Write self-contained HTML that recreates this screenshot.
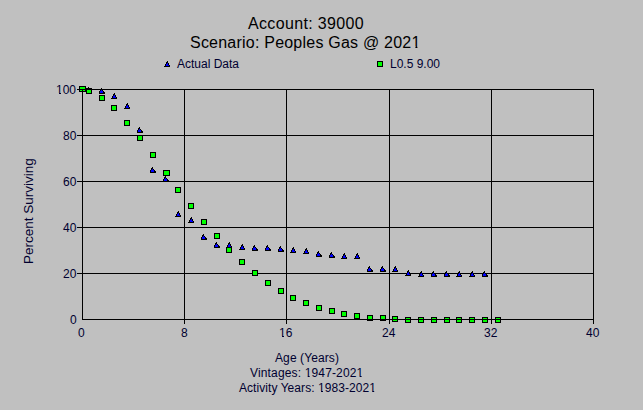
<!DOCTYPE html>
<html><head><meta charset="utf-8"><style>
html,body{margin:0;padding:0;}
body{width:643px;height:410px;background:#c0c0c0;position:relative;overflow:hidden;font-family:"Liberation Sans",sans-serif;color:#000030;}
.t{position:absolute;white-space:nowrap;line-height:1;}
.o{display:inline-block;clip-path:polygon(0 0,100% 0,100% 9px,5px 9px,5px 100%,3px 100%,3px 9px,0 9px);}
.O{display:inline-block;clip-path:polygon(0 0,100% 0,100% 11px,6px 11px,6px 100%,4px 100%,4px 11px,0 11px);}
svg{position:absolute;left:0;top:0;}
</style></head><body>
<svg width="643" height="410" shape-rendering="crispEdges">
<rect x="184" y="89" width="1" height="231" fill="#000"/>
<rect x="286" y="89" width="1" height="231" fill="#000"/>
<rect x="389" y="89" width="1" height="231" fill="#000"/>
<rect x="491" y="89" width="1" height="231" fill="#000"/>
<rect x="82" y="135" width="512" height="1" fill="#000"/>
<rect x="82" y="181" width="512" height="1" fill="#000"/>
<rect x="82" y="227" width="512" height="1" fill="#000"/>
<rect x="82" y="273" width="512" height="1" fill="#000"/>
<rect x="82" y="86" width="1" height="1" fill="#000"/>
<rect x="81" y="87" width="2" height="1" fill="#000"/>
<rect x="81" y="88" width="1" height="1" fill="#000"/>
<rect x="82" y="88" width="1" height="1" fill="#0000ff"/>
<rect x="83" y="88" width="1" height="1" fill="#000"/>
<rect x="80" y="89" width="1" height="1" fill="#000"/>
<rect x="81" y="89" width="3" height="1" fill="#0000ff"/>
<rect x="84" y="89" width="1" height="1" fill="#000"/>
<rect x="80" y="90" width="1" height="1" fill="#000"/>
<rect x="81" y="90" width="3" height="1" fill="#0000ff"/>
<rect x="84" y="90" width="2" height="1" fill="#000"/>
<rect x="80" y="91" width="6" height="1" fill="#000"/>
<rect x="88" y="87" width="1" height="1" fill="#000"/>
<rect x="87" y="88" width="2" height="1" fill="#000"/>
<rect x="87" y="89" width="1" height="1" fill="#000"/>
<rect x="88" y="89" width="1" height="1" fill="#0000ff"/>
<rect x="89" y="89" width="1" height="1" fill="#000"/>
<rect x="86" y="90" width="1" height="1" fill="#000"/>
<rect x="87" y="90" width="3" height="1" fill="#0000ff"/>
<rect x="90" y="90" width="1" height="1" fill="#000"/>
<rect x="86" y="91" width="1" height="1" fill="#000"/>
<rect x="87" y="91" width="3" height="1" fill="#0000ff"/>
<rect x="90" y="91" width="2" height="1" fill="#000"/>
<rect x="86" y="92" width="6" height="1" fill="#000"/>
<rect x="101" y="88" width="1" height="1" fill="#000"/>
<rect x="100" y="89" width="2" height="1" fill="#000"/>
<rect x="100" y="90" width="1" height="1" fill="#000"/>
<rect x="101" y="90" width="1" height="1" fill="#0000ff"/>
<rect x="102" y="90" width="1" height="1" fill="#000"/>
<rect x="99" y="91" width="1" height="1" fill="#000"/>
<rect x="100" y="91" width="3" height="1" fill="#0000ff"/>
<rect x="103" y="91" width="1" height="1" fill="#000"/>
<rect x="99" y="92" width="1" height="1" fill="#000"/>
<rect x="100" y="92" width="3" height="1" fill="#0000ff"/>
<rect x="103" y="92" width="2" height="1" fill="#000"/>
<rect x="99" y="93" width="6" height="1" fill="#000"/>
<rect x="114" y="93" width="1" height="1" fill="#000"/>
<rect x="113" y="94" width="2" height="1" fill="#000"/>
<rect x="113" y="95" width="1" height="1" fill="#000"/>
<rect x="114" y="95" width="1" height="1" fill="#0000ff"/>
<rect x="115" y="95" width="1" height="1" fill="#000"/>
<rect x="112" y="96" width="1" height="1" fill="#000"/>
<rect x="113" y="96" width="2" height="1" fill="#0000ff"/>
<rect x="115" y="96" width="1" height="1" fill="#000"/>
<rect x="112" y="97" width="1" height="1" fill="#000"/>
<rect x="113" y="97" width="3" height="1" fill="#0000ff"/>
<rect x="116" y="97" width="1" height="1" fill="#000"/>
<rect x="111" y="98" width="6" height="1" fill="#000"/>
<rect x="127" y="103" width="1" height="1" fill="#000"/>
<rect x="126" y="104" width="2" height="1" fill="#000"/>
<rect x="126" y="105" width="1" height="1" fill="#000"/>
<rect x="127" y="105" width="1" height="1" fill="#0000ff"/>
<rect x="128" y="105" width="1" height="1" fill="#000"/>
<rect x="125" y="106" width="1" height="1" fill="#000"/>
<rect x="126" y="106" width="2" height="1" fill="#0000ff"/>
<rect x="128" y="106" width="1" height="1" fill="#000"/>
<rect x="125" y="107" width="1" height="1" fill="#000"/>
<rect x="126" y="107" width="3" height="1" fill="#0000ff"/>
<rect x="129" y="107" width="1" height="1" fill="#000"/>
<rect x="124" y="108" width="6" height="1" fill="#000"/>
<rect x="139" y="127" width="1" height="1" fill="#000"/>
<rect x="138" y="128" width="2" height="1" fill="#000"/>
<rect x="138" y="129" width="1" height="1" fill="#000"/>
<rect x="139" y="129" width="1" height="1" fill="#0000ff"/>
<rect x="140" y="129" width="1" height="1" fill="#000"/>
<rect x="137" y="130" width="1" height="1" fill="#000"/>
<rect x="138" y="130" width="3" height="1" fill="#0000ff"/>
<rect x="141" y="130" width="1" height="1" fill="#000"/>
<rect x="137" y="131" width="1" height="1" fill="#000"/>
<rect x="138" y="131" width="3" height="1" fill="#0000ff"/>
<rect x="141" y="131" width="2" height="1" fill="#000"/>
<rect x="137" y="132" width="6" height="1" fill="#000"/>
<rect x="152" y="167" width="1" height="1" fill="#000"/>
<rect x="151" y="168" width="2" height="1" fill="#000"/>
<rect x="151" y="169" width="1" height="1" fill="#000"/>
<rect x="152" y="169" width="1" height="1" fill="#0000ff"/>
<rect x="153" y="169" width="1" height="1" fill="#000"/>
<rect x="150" y="170" width="1" height="1" fill="#000"/>
<rect x="151" y="170" width="3" height="1" fill="#0000ff"/>
<rect x="154" y="170" width="1" height="1" fill="#000"/>
<rect x="150" y="171" width="1" height="1" fill="#000"/>
<rect x="151" y="171" width="3" height="1" fill="#0000ff"/>
<rect x="154" y="171" width="2" height="1" fill="#000"/>
<rect x="150" y="172" width="6" height="1" fill="#000"/>
<rect x="165" y="176" width="1" height="1" fill="#000"/>
<rect x="164" y="177" width="2" height="1" fill="#000"/>
<rect x="164" y="178" width="1" height="1" fill="#000"/>
<rect x="165" y="178" width="1" height="1" fill="#0000ff"/>
<rect x="166" y="178" width="1" height="1" fill="#000"/>
<rect x="163" y="179" width="1" height="1" fill="#000"/>
<rect x="164" y="179" width="3" height="1" fill="#0000ff"/>
<rect x="167" y="179" width="1" height="1" fill="#000"/>
<rect x="163" y="180" width="1" height="1" fill="#000"/>
<rect x="164" y="180" width="3" height="1" fill="#0000ff"/>
<rect x="167" y="180" width="2" height="1" fill="#000"/>
<rect x="163" y="181" width="6" height="1" fill="#000"/>
<rect x="178" y="211" width="1" height="1" fill="#000"/>
<rect x="177" y="212" width="2" height="1" fill="#000"/>
<rect x="177" y="213" width="1" height="1" fill="#000"/>
<rect x="178" y="213" width="1" height="1" fill="#0000ff"/>
<rect x="179" y="213" width="1" height="1" fill="#000"/>
<rect x="176" y="214" width="1" height="1" fill="#000"/>
<rect x="177" y="214" width="2" height="1" fill="#0000ff"/>
<rect x="179" y="214" width="1" height="1" fill="#000"/>
<rect x="176" y="215" width="1" height="1" fill="#000"/>
<rect x="177" y="215" width="3" height="1" fill="#0000ff"/>
<rect x="180" y="215" width="1" height="1" fill="#000"/>
<rect x="175" y="216" width="6" height="1" fill="#000"/>
<rect x="191" y="217" width="1" height="1" fill="#000"/>
<rect x="190" y="218" width="2" height="1" fill="#000"/>
<rect x="190" y="219" width="1" height="1" fill="#000"/>
<rect x="191" y="219" width="1" height="1" fill="#0000ff"/>
<rect x="192" y="219" width="1" height="1" fill="#000"/>
<rect x="189" y="220" width="1" height="1" fill="#000"/>
<rect x="190" y="220" width="2" height="1" fill="#0000ff"/>
<rect x="192" y="220" width="1" height="1" fill="#000"/>
<rect x="189" y="221" width="1" height="1" fill="#000"/>
<rect x="190" y="221" width="3" height="1" fill="#0000ff"/>
<rect x="193" y="221" width="1" height="1" fill="#000"/>
<rect x="188" y="222" width="6" height="1" fill="#000"/>
<rect x="203" y="234" width="1" height="1" fill="#000"/>
<rect x="202" y="235" width="2" height="1" fill="#000"/>
<rect x="202" y="236" width="1" height="1" fill="#000"/>
<rect x="203" y="236" width="1" height="1" fill="#0000ff"/>
<rect x="204" y="236" width="1" height="1" fill="#000"/>
<rect x="201" y="237" width="1" height="1" fill="#000"/>
<rect x="202" y="237" width="3" height="1" fill="#0000ff"/>
<rect x="205" y="237" width="1" height="1" fill="#000"/>
<rect x="201" y="238" width="1" height="1" fill="#000"/>
<rect x="202" y="238" width="3" height="1" fill="#0000ff"/>
<rect x="205" y="238" width="2" height="1" fill="#000"/>
<rect x="201" y="239" width="6" height="1" fill="#000"/>
<rect x="216" y="242" width="1" height="1" fill="#000"/>
<rect x="215" y="243" width="2" height="1" fill="#000"/>
<rect x="215" y="244" width="1" height="1" fill="#000"/>
<rect x="216" y="244" width="1" height="1" fill="#0000ff"/>
<rect x="217" y="244" width="1" height="1" fill="#000"/>
<rect x="214" y="245" width="1" height="1" fill="#000"/>
<rect x="215" y="245" width="3" height="1" fill="#0000ff"/>
<rect x="218" y="245" width="1" height="1" fill="#000"/>
<rect x="214" y="246" width="1" height="1" fill="#000"/>
<rect x="215" y="246" width="3" height="1" fill="#0000ff"/>
<rect x="218" y="246" width="2" height="1" fill="#000"/>
<rect x="214" y="247" width="6" height="1" fill="#000"/>
<rect x="229" y="242" width="1" height="1" fill="#000"/>
<rect x="228" y="243" width="2" height="1" fill="#000"/>
<rect x="228" y="244" width="1" height="1" fill="#000"/>
<rect x="229" y="244" width="1" height="1" fill="#0000ff"/>
<rect x="230" y="244" width="1" height="1" fill="#000"/>
<rect x="227" y="245" width="1" height="1" fill="#000"/>
<rect x="228" y="245" width="2" height="1" fill="#0000ff"/>
<rect x="230" y="245" width="1" height="1" fill="#000"/>
<rect x="227" y="246" width="1" height="1" fill="#000"/>
<rect x="228" y="246" width="3" height="1" fill="#0000ff"/>
<rect x="231" y="246" width="1" height="1" fill="#000"/>
<rect x="226" y="247" width="6" height="1" fill="#000"/>
<rect x="242" y="244" width="1" height="1" fill="#000"/>
<rect x="241" y="245" width="2" height="1" fill="#000"/>
<rect x="241" y="246" width="1" height="1" fill="#000"/>
<rect x="242" y="246" width="1" height="1" fill="#0000ff"/>
<rect x="243" y="246" width="1" height="1" fill="#000"/>
<rect x="240" y="247" width="1" height="1" fill="#000"/>
<rect x="241" y="247" width="2" height="1" fill="#0000ff"/>
<rect x="243" y="247" width="1" height="1" fill="#000"/>
<rect x="240" y="248" width="1" height="1" fill="#000"/>
<rect x="241" y="248" width="3" height="1" fill="#0000ff"/>
<rect x="244" y="248" width="1" height="1" fill="#000"/>
<rect x="239" y="249" width="6" height="1" fill="#000"/>
<rect x="254" y="245" width="1" height="1" fill="#000"/>
<rect x="253" y="246" width="2" height="1" fill="#000"/>
<rect x="253" y="247" width="1" height="1" fill="#000"/>
<rect x="254" y="247" width="1" height="1" fill="#0000ff"/>
<rect x="255" y="247" width="1" height="1" fill="#000"/>
<rect x="252" y="248" width="1" height="1" fill="#000"/>
<rect x="253" y="248" width="3" height="1" fill="#0000ff"/>
<rect x="256" y="248" width="1" height="1" fill="#000"/>
<rect x="252" y="249" width="1" height="1" fill="#000"/>
<rect x="253" y="249" width="3" height="1" fill="#0000ff"/>
<rect x="256" y="249" width="2" height="1" fill="#000"/>
<rect x="252" y="250" width="6" height="1" fill="#000"/>
<rect x="267" y="245" width="1" height="1" fill="#000"/>
<rect x="266" y="246" width="2" height="1" fill="#000"/>
<rect x="266" y="247" width="1" height="1" fill="#000"/>
<rect x="267" y="247" width="1" height="1" fill="#0000ff"/>
<rect x="268" y="247" width="1" height="1" fill="#000"/>
<rect x="265" y="248" width="1" height="1" fill="#000"/>
<rect x="266" y="248" width="3" height="1" fill="#0000ff"/>
<rect x="269" y="248" width="1" height="1" fill="#000"/>
<rect x="265" y="249" width="1" height="1" fill="#000"/>
<rect x="266" y="249" width="3" height="1" fill="#0000ff"/>
<rect x="269" y="249" width="2" height="1" fill="#000"/>
<rect x="265" y="250" width="6" height="1" fill="#000"/>
<rect x="280" y="246" width="1" height="1" fill="#000"/>
<rect x="279" y="247" width="2" height="1" fill="#000"/>
<rect x="279" y="248" width="1" height="1" fill="#000"/>
<rect x="280" y="248" width="1" height="1" fill="#0000ff"/>
<rect x="281" y="248" width="1" height="1" fill="#000"/>
<rect x="278" y="249" width="1" height="1" fill="#000"/>
<rect x="279" y="249" width="3" height="1" fill="#0000ff"/>
<rect x="282" y="249" width="1" height="1" fill="#000"/>
<rect x="278" y="250" width="1" height="1" fill="#000"/>
<rect x="279" y="250" width="3" height="1" fill="#0000ff"/>
<rect x="282" y="250" width="2" height="1" fill="#000"/>
<rect x="278" y="251" width="6" height="1" fill="#000"/>
<rect x="293" y="247" width="1" height="1" fill="#000"/>
<rect x="292" y="248" width="2" height="1" fill="#000"/>
<rect x="292" y="249" width="1" height="1" fill="#000"/>
<rect x="293" y="249" width="1" height="1" fill="#0000ff"/>
<rect x="294" y="249" width="1" height="1" fill="#000"/>
<rect x="291" y="250" width="1" height="1" fill="#000"/>
<rect x="292" y="250" width="2" height="1" fill="#0000ff"/>
<rect x="294" y="250" width="1" height="1" fill="#000"/>
<rect x="291" y="251" width="1" height="1" fill="#000"/>
<rect x="292" y="251" width="3" height="1" fill="#0000ff"/>
<rect x="295" y="251" width="1" height="1" fill="#000"/>
<rect x="290" y="252" width="6" height="1" fill="#000"/>
<rect x="306" y="248" width="1" height="1" fill="#000"/>
<rect x="305" y="249" width="2" height="1" fill="#000"/>
<rect x="305" y="250" width="1" height="1" fill="#000"/>
<rect x="306" y="250" width="1" height="1" fill="#0000ff"/>
<rect x="307" y="250" width="1" height="1" fill="#000"/>
<rect x="304" y="251" width="1" height="1" fill="#000"/>
<rect x="305" y="251" width="2" height="1" fill="#0000ff"/>
<rect x="307" y="251" width="1" height="1" fill="#000"/>
<rect x="304" y="252" width="1" height="1" fill="#000"/>
<rect x="305" y="252" width="3" height="1" fill="#0000ff"/>
<rect x="308" y="252" width="1" height="1" fill="#000"/>
<rect x="303" y="253" width="6" height="1" fill="#000"/>
<rect x="318" y="251" width="1" height="1" fill="#000"/>
<rect x="317" y="252" width="2" height="1" fill="#000"/>
<rect x="317" y="253" width="1" height="1" fill="#000"/>
<rect x="318" y="253" width="1" height="1" fill="#0000ff"/>
<rect x="319" y="253" width="1" height="1" fill="#000"/>
<rect x="316" y="254" width="1" height="1" fill="#000"/>
<rect x="317" y="254" width="3" height="1" fill="#0000ff"/>
<rect x="320" y="254" width="1" height="1" fill="#000"/>
<rect x="316" y="255" width="1" height="1" fill="#000"/>
<rect x="317" y="255" width="3" height="1" fill="#0000ff"/>
<rect x="320" y="255" width="2" height="1" fill="#000"/>
<rect x="316" y="256" width="6" height="1" fill="#000"/>
<rect x="331" y="252" width="1" height="1" fill="#000"/>
<rect x="330" y="253" width="2" height="1" fill="#000"/>
<rect x="330" y="254" width="1" height="1" fill="#000"/>
<rect x="331" y="254" width="1" height="1" fill="#0000ff"/>
<rect x="332" y="254" width="1" height="1" fill="#000"/>
<rect x="329" y="255" width="1" height="1" fill="#000"/>
<rect x="330" y="255" width="3" height="1" fill="#0000ff"/>
<rect x="333" y="255" width="1" height="1" fill="#000"/>
<rect x="329" y="256" width="1" height="1" fill="#000"/>
<rect x="330" y="256" width="3" height="1" fill="#0000ff"/>
<rect x="333" y="256" width="2" height="1" fill="#000"/>
<rect x="329" y="257" width="6" height="1" fill="#000"/>
<rect x="344" y="253" width="1" height="1" fill="#000"/>
<rect x="343" y="254" width="2" height="1" fill="#000"/>
<rect x="343" y="255" width="1" height="1" fill="#000"/>
<rect x="344" y="255" width="1" height="1" fill="#0000ff"/>
<rect x="345" y="255" width="1" height="1" fill="#000"/>
<rect x="342" y="256" width="1" height="1" fill="#000"/>
<rect x="343" y="256" width="2" height="1" fill="#0000ff"/>
<rect x="345" y="256" width="1" height="1" fill="#000"/>
<rect x="342" y="257" width="1" height="1" fill="#000"/>
<rect x="343" y="257" width="3" height="1" fill="#0000ff"/>
<rect x="346" y="257" width="1" height="1" fill="#000"/>
<rect x="341" y="258" width="6" height="1" fill="#000"/>
<rect x="357" y="253" width="1" height="1" fill="#000"/>
<rect x="356" y="254" width="2" height="1" fill="#000"/>
<rect x="356" y="255" width="1" height="1" fill="#000"/>
<rect x="357" y="255" width="1" height="1" fill="#0000ff"/>
<rect x="358" y="255" width="1" height="1" fill="#000"/>
<rect x="355" y="256" width="1" height="1" fill="#000"/>
<rect x="356" y="256" width="2" height="1" fill="#0000ff"/>
<rect x="358" y="256" width="1" height="1" fill="#000"/>
<rect x="355" y="257" width="1" height="1" fill="#000"/>
<rect x="356" y="257" width="3" height="1" fill="#0000ff"/>
<rect x="359" y="257" width="1" height="1" fill="#000"/>
<rect x="354" y="258" width="6" height="1" fill="#000"/>
<rect x="369" y="266" width="1" height="1" fill="#000"/>
<rect x="368" y="267" width="2" height="1" fill="#000"/>
<rect x="368" y="268" width="1" height="1" fill="#000"/>
<rect x="369" y="268" width="1" height="1" fill="#0000ff"/>
<rect x="370" y="268" width="1" height="1" fill="#000"/>
<rect x="367" y="269" width="1" height="1" fill="#000"/>
<rect x="368" y="269" width="3" height="1" fill="#0000ff"/>
<rect x="371" y="269" width="1" height="1" fill="#000"/>
<rect x="367" y="270" width="1" height="1" fill="#000"/>
<rect x="368" y="270" width="3" height="1" fill="#0000ff"/>
<rect x="371" y="270" width="2" height="1" fill="#000"/>
<rect x="367" y="271" width="6" height="1" fill="#000"/>
<rect x="382" y="266" width="1" height="1" fill="#000"/>
<rect x="381" y="267" width="2" height="1" fill="#000"/>
<rect x="381" y="268" width="1" height="1" fill="#000"/>
<rect x="382" y="268" width="1" height="1" fill="#0000ff"/>
<rect x="383" y="268" width="1" height="1" fill="#000"/>
<rect x="380" y="269" width="1" height="1" fill="#000"/>
<rect x="381" y="269" width="3" height="1" fill="#0000ff"/>
<rect x="384" y="269" width="1" height="1" fill="#000"/>
<rect x="380" y="270" width="1" height="1" fill="#000"/>
<rect x="381" y="270" width="3" height="1" fill="#0000ff"/>
<rect x="384" y="270" width="2" height="1" fill="#000"/>
<rect x="380" y="271" width="6" height="1" fill="#000"/>
<rect x="395" y="266" width="1" height="1" fill="#000"/>
<rect x="394" y="267" width="2" height="1" fill="#000"/>
<rect x="394" y="268" width="1" height="1" fill="#000"/>
<rect x="395" y="268" width="1" height="1" fill="#0000ff"/>
<rect x="396" y="268" width="1" height="1" fill="#000"/>
<rect x="393" y="269" width="1" height="1" fill="#000"/>
<rect x="394" y="269" width="2" height="1" fill="#0000ff"/>
<rect x="396" y="269" width="1" height="1" fill="#000"/>
<rect x="393" y="270" width="1" height="1" fill="#000"/>
<rect x="394" y="270" width="3" height="1" fill="#0000ff"/>
<rect x="397" y="270" width="1" height="1" fill="#000"/>
<rect x="392" y="271" width="6" height="1" fill="#000"/>
<rect x="408" y="270" width="1" height="1" fill="#000"/>
<rect x="407" y="271" width="2" height="1" fill="#000"/>
<rect x="407" y="272" width="1" height="1" fill="#000"/>
<rect x="408" y="272" width="1" height="1" fill="#0000ff"/>
<rect x="409" y="272" width="1" height="1" fill="#000"/>
<rect x="406" y="273" width="1" height="1" fill="#000"/>
<rect x="407" y="273" width="2" height="1" fill="#0000ff"/>
<rect x="409" y="273" width="1" height="1" fill="#000"/>
<rect x="406" y="274" width="1" height="1" fill="#000"/>
<rect x="407" y="274" width="3" height="1" fill="#0000ff"/>
<rect x="410" y="274" width="1" height="1" fill="#000"/>
<rect x="405" y="275" width="6" height="1" fill="#000"/>
<rect x="421" y="271" width="1" height="1" fill="#000"/>
<rect x="420" y="272" width="2" height="1" fill="#000"/>
<rect x="420" y="273" width="1" height="1" fill="#000"/>
<rect x="421" y="273" width="1" height="1" fill="#0000ff"/>
<rect x="422" y="273" width="1" height="1" fill="#000"/>
<rect x="419" y="274" width="1" height="1" fill="#000"/>
<rect x="420" y="274" width="2" height="1" fill="#0000ff"/>
<rect x="422" y="274" width="1" height="1" fill="#000"/>
<rect x="419" y="275" width="1" height="1" fill="#000"/>
<rect x="420" y="275" width="3" height="1" fill="#0000ff"/>
<rect x="423" y="275" width="1" height="1" fill="#000"/>
<rect x="418" y="276" width="6" height="1" fill="#000"/>
<rect x="433" y="271" width="1" height="1" fill="#000"/>
<rect x="432" y="272" width="2" height="1" fill="#000"/>
<rect x="432" y="273" width="1" height="1" fill="#000"/>
<rect x="433" y="273" width="1" height="1" fill="#0000ff"/>
<rect x="434" y="273" width="1" height="1" fill="#000"/>
<rect x="431" y="274" width="1" height="1" fill="#000"/>
<rect x="432" y="274" width="3" height="1" fill="#0000ff"/>
<rect x="435" y="274" width="1" height="1" fill="#000"/>
<rect x="431" y="275" width="1" height="1" fill="#000"/>
<rect x="432" y="275" width="3" height="1" fill="#0000ff"/>
<rect x="435" y="275" width="2" height="1" fill="#000"/>
<rect x="431" y="276" width="6" height="1" fill="#000"/>
<rect x="446" y="271" width="1" height="1" fill="#000"/>
<rect x="445" y="272" width="2" height="1" fill="#000"/>
<rect x="445" y="273" width="1" height="1" fill="#000"/>
<rect x="446" y="273" width="1" height="1" fill="#0000ff"/>
<rect x="447" y="273" width="1" height="1" fill="#000"/>
<rect x="444" y="274" width="1" height="1" fill="#000"/>
<rect x="445" y="274" width="3" height="1" fill="#0000ff"/>
<rect x="448" y="274" width="1" height="1" fill="#000"/>
<rect x="444" y="275" width="1" height="1" fill="#000"/>
<rect x="445" y="275" width="3" height="1" fill="#0000ff"/>
<rect x="448" y="275" width="2" height="1" fill="#000"/>
<rect x="444" y="276" width="6" height="1" fill="#000"/>
<rect x="459" y="271" width="1" height="1" fill="#000"/>
<rect x="458" y="272" width="2" height="1" fill="#000"/>
<rect x="458" y="273" width="1" height="1" fill="#000"/>
<rect x="459" y="273" width="1" height="1" fill="#0000ff"/>
<rect x="460" y="273" width="1" height="1" fill="#000"/>
<rect x="457" y="274" width="1" height="1" fill="#000"/>
<rect x="458" y="274" width="2" height="1" fill="#0000ff"/>
<rect x="460" y="274" width="1" height="1" fill="#000"/>
<rect x="457" y="275" width="1" height="1" fill="#000"/>
<rect x="458" y="275" width="3" height="1" fill="#0000ff"/>
<rect x="461" y="275" width="1" height="1" fill="#000"/>
<rect x="456" y="276" width="6" height="1" fill="#000"/>
<rect x="472" y="271" width="1" height="1" fill="#000"/>
<rect x="471" y="272" width="2" height="1" fill="#000"/>
<rect x="471" y="273" width="1" height="1" fill="#000"/>
<rect x="472" y="273" width="1" height="1" fill="#0000ff"/>
<rect x="473" y="273" width="1" height="1" fill="#000"/>
<rect x="470" y="274" width="1" height="1" fill="#000"/>
<rect x="471" y="274" width="2" height="1" fill="#0000ff"/>
<rect x="473" y="274" width="1" height="1" fill="#000"/>
<rect x="470" y="275" width="1" height="1" fill="#000"/>
<rect x="471" y="275" width="3" height="1" fill="#0000ff"/>
<rect x="474" y="275" width="1" height="1" fill="#000"/>
<rect x="469" y="276" width="6" height="1" fill="#000"/>
<rect x="484" y="271" width="1" height="1" fill="#000"/>
<rect x="483" y="272" width="2" height="1" fill="#000"/>
<rect x="483" y="273" width="1" height="1" fill="#000"/>
<rect x="484" y="273" width="1" height="1" fill="#0000ff"/>
<rect x="485" y="273" width="1" height="1" fill="#000"/>
<rect x="482" y="274" width="1" height="1" fill="#000"/>
<rect x="483" y="274" width="3" height="1" fill="#0000ff"/>
<rect x="486" y="274" width="1" height="1" fill="#000"/>
<rect x="482" y="275" width="1" height="1" fill="#000"/>
<rect x="483" y="275" width="3" height="1" fill="#0000ff"/>
<rect x="486" y="275" width="2" height="1" fill="#000"/>
<rect x="482" y="276" width="6" height="1" fill="#000"/>
<rect x="79" y="86" width="7" height="6" fill="#000"/>
<rect x="80" y="87" width="5" height="4" fill="#00ff00"/>
<rect x="86" y="88" width="6" height="6" fill="#000"/>
<rect x="87" y="89" width="4" height="4" fill="#00ff00"/>
<rect x="99" y="95" width="6" height="6" fill="#000"/>
<rect x="100" y="96" width="4" height="4" fill="#00ff00"/>
<rect x="111" y="105" width="6" height="6" fill="#000"/>
<rect x="112" y="106" width="4" height="4" fill="#00ff00"/>
<rect x="124" y="120" width="6" height="6" fill="#000"/>
<rect x="125" y="121" width="4" height="4" fill="#00ff00"/>
<rect x="137" y="135" width="6" height="6" fill="#000"/>
<rect x="138" y="136" width="4" height="4" fill="#00ff00"/>
<rect x="150" y="152" width="6" height="6" fill="#000"/>
<rect x="151" y="153" width="4" height="4" fill="#00ff00"/>
<rect x="163" y="170" width="7" height="6" fill="#000"/>
<rect x="164" y="171" width="5" height="4" fill="#00ff00"/>
<rect x="175" y="187" width="6" height="6" fill="#000"/>
<rect x="176" y="188" width="4" height="4" fill="#00ff00"/>
<rect x="188" y="203" width="6" height="6" fill="#000"/>
<rect x="189" y="204" width="4" height="4" fill="#00ff00"/>
<rect x="201" y="219" width="6" height="6" fill="#000"/>
<rect x="202" y="220" width="4" height="4" fill="#00ff00"/>
<rect x="214" y="233" width="6" height="6" fill="#000"/>
<rect x="215" y="234" width="4" height="4" fill="#00ff00"/>
<rect x="226" y="247" width="6" height="6" fill="#000"/>
<rect x="227" y="248" width="4" height="4" fill="#00ff00"/>
<rect x="239" y="259" width="6" height="6" fill="#000"/>
<rect x="240" y="260" width="4" height="4" fill="#00ff00"/>
<rect x="252" y="270" width="6" height="6" fill="#000"/>
<rect x="253" y="271" width="4" height="4" fill="#00ff00"/>
<rect x="265" y="280" width="6" height="6" fill="#000"/>
<rect x="266" y="281" width="4" height="4" fill="#00ff00"/>
<rect x="278" y="288" width="6" height="6" fill="#000"/>
<rect x="279" y="289" width="4" height="4" fill="#00ff00"/>
<rect x="290" y="295" width="6" height="6" fill="#000"/>
<rect x="291" y="296" width="4" height="4" fill="#00ff00"/>
<rect x="303" y="300" width="6" height="6" fill="#000"/>
<rect x="304" y="301" width="4" height="4" fill="#00ff00"/>
<rect x="316" y="305" width="6" height="6" fill="#000"/>
<rect x="317" y="306" width="4" height="4" fill="#00ff00"/>
<rect x="329" y="308" width="6" height="6" fill="#000"/>
<rect x="330" y="309" width="4" height="4" fill="#00ff00"/>
<rect x="341" y="311" width="6" height="6" fill="#000"/>
<rect x="342" y="312" width="4" height="4" fill="#00ff00"/>
<rect x="354" y="313" width="6" height="6" fill="#000"/>
<rect x="355" y="314" width="4" height="4" fill="#00ff00"/>
<rect x="367" y="315" width="6" height="6" fill="#000"/>
<rect x="368" y="316" width="4" height="4" fill="#00ff00"/>
<rect x="380" y="315" width="6" height="6" fill="#000"/>
<rect x="381" y="316" width="4" height="4" fill="#00ff00"/>
<rect x="392" y="316" width="6" height="6" fill="#000"/>
<rect x="393" y="317" width="4" height="4" fill="#00ff00"/>
<rect x="405" y="317" width="6" height="6" fill="#000"/>
<rect x="406" y="318" width="4" height="4" fill="#00ff00"/>
<rect x="418" y="317" width="6" height="6" fill="#000"/>
<rect x="419" y="318" width="4" height="4" fill="#00ff00"/>
<rect x="431" y="317" width="6" height="6" fill="#000"/>
<rect x="432" y="318" width="4" height="4" fill="#00ff00"/>
<rect x="444" y="317" width="6" height="6" fill="#000"/>
<rect x="445" y="318" width="4" height="4" fill="#00ff00"/>
<rect x="456" y="317" width="6" height="6" fill="#000"/>
<rect x="457" y="318" width="4" height="4" fill="#00ff00"/>
<rect x="469" y="317" width="6" height="6" fill="#000"/>
<rect x="470" y="318" width="4" height="4" fill="#00ff00"/>
<rect x="482" y="317" width="6" height="6" fill="#000"/>
<rect x="483" y="318" width="4" height="4" fill="#00ff00"/>
<rect x="495" y="317" width="6" height="6" fill="#000"/>
<rect x="496" y="318" width="4" height="4" fill="#00ff00"/>
<rect x="82" y="89" width="1" height="231" fill="#000"/>
<rect x="593" y="89" width="1" height="231" fill="#000"/>
<rect x="82" y="89" width="512" height="1" fill="#000"/>
<rect x="82" y="319" width="512" height="1" fill="#000"/>
<rect x="184" y="320" width="1" height="4" fill="#000"/>
<rect x="286" y="320" width="1" height="4" fill="#000"/>
<rect x="389" y="320" width="1" height="4" fill="#000"/>
<rect x="491" y="320" width="1" height="4" fill="#000"/>
<rect x="593" y="320" width="1" height="4" fill="#000"/>
<rect x="77" y="89" width="5" height="1" fill="#000"/>
<rect x="77" y="135" width="5" height="1" fill="#000"/>
<rect x="77" y="181" width="5" height="1" fill="#000"/>
<rect x="77" y="227" width="5" height="1" fill="#000"/>
<rect x="77" y="273" width="5" height="1" fill="#000"/>
<rect x="167" y="61" width="1" height="1" fill="#000"/>
<rect x="166" y="62" width="2" height="1" fill="#000"/>
<rect x="166" y="63" width="1" height="1" fill="#000"/>
<rect x="167" y="63" width="1" height="1" fill="#0000ff"/>
<rect x="168" y="63" width="1" height="1" fill="#000"/>
<rect x="165" y="64" width="1" height="1" fill="#000"/>
<rect x="166" y="64" width="2" height="1" fill="#0000ff"/>
<rect x="168" y="64" width="1" height="1" fill="#000"/>
<rect x="165" y="65" width="1" height="1" fill="#000"/>
<rect x="166" y="65" width="3" height="1" fill="#0000ff"/>
<rect x="169" y="65" width="1" height="1" fill="#000"/>
<rect x="164" y="66" width="6" height="1" fill="#000"/>
<rect x="377" y="61" width="6" height="6" fill="#000"/>
<rect x="378" y="62" width="4" height="4" fill="#00ff00"/>
</svg>
<div class="t" id="t1" style="left:248px;top:16px;font-size:16px;letter-spacing:0.35px;color:#000">Account: 39000</div>
<div class="t" id="t2" style="left:190px;top:35px;font-size:16px;letter-spacing:0.22px;color:#000">Scenario: Peoples Gas @ 202<span class="O">1</span></div>
<div class="t" id="l1" style="left:177px;top:58px;font-size:12px;">Actual Data</div>
<div class="t" id="l2" style="left:390px;top:58px;font-size:12px;">L0.5 9.00</div>
<div class="t" style="left:56px;top:84px;font-size:12px;"><span class="o">1</span>00</div>
<div class="t" style="left:63px;top:130px;font-size:12px;">80</div>
<div class="t" style="left:63px;top:176px;font-size:12px;">60</div>
<div class="t" style="left:63px;top:222px;font-size:12px;">40</div>
<div class="t" style="left:63px;top:268px;font-size:12px;">20</div>
<div class="t" style="left:70px;top:314px;font-size:12px;">0</div>
<div class="t" style="left:78px;top:327px;font-size:12px;">0</div>
<div class="t" style="left:181px;top:327px;font-size:12px;">8</div>
<div class="t" style="left:279px;top:327px;font-size:12px;"><span class="o">1</span>6</div>
<div class="t" style="left:382px;top:327px;font-size:12px;">24</div>
<div class="t" style="left:484px;top:327px;font-size:12px;">32</div>
<div class="t" style="left:586px;top:327px;font-size:12px;">40</div>
<div class="t" id="yl" style="left:22px;top:264px;font-size:13.5px;letter-spacing:0px;transform-origin:0 0;transform:rotate(-90deg);">Percent Surviving</div>
<div class="t" style="left:275px;top:352px;font-size:12px;letter-spacing:0.1px;">Age (Years)</div>
<div class="t" style="left:250px;top:367px;font-size:12px;letter-spacing:0.15px;">Vintages: <span class="o">1</span>947-202<span class="o">1</span></div>
<div class="t" style="left:239px;top:382px;font-size:12px;letter-spacing:0.06px;">Activity Years: <span class="o">1</span>983-202<span class="o">1</span></div>
</body></html>
